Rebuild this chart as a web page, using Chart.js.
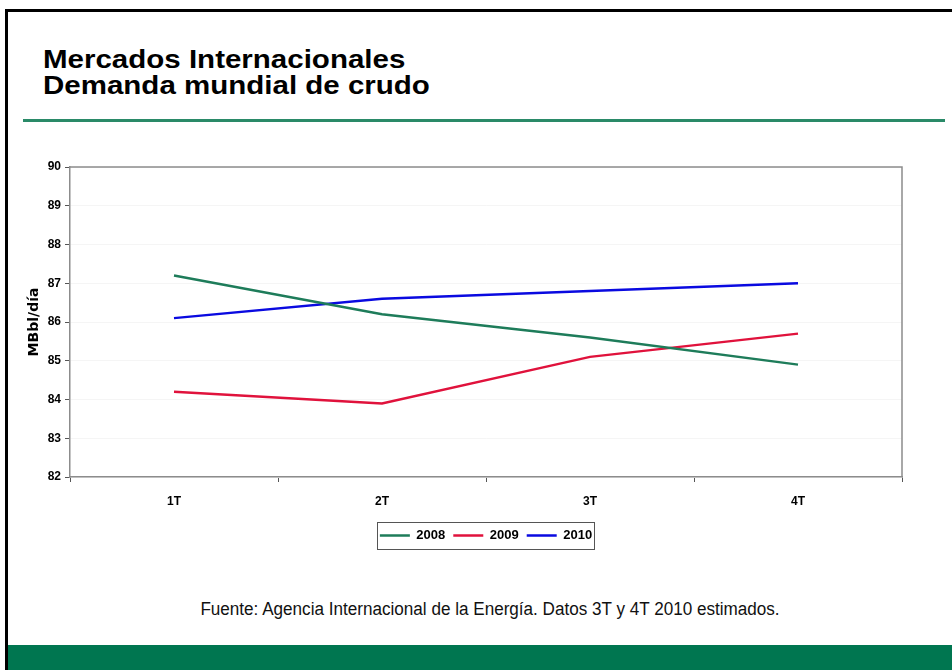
<!DOCTYPE html>
<html>
<head>
<meta charset="utf-8">
<script src="https://cdn.jsdelivr.net/npm/chart.js@4"></script>
<style>
  body { margin: 0; width: 952px; height: 670px; background: #fff; position: relative; overflow: hidden; font-family: "Liberation Sans", Arial, sans-serif; }
  .frame { position: absolute; left: 5px; top: 9px; width: 960px; height: 700px; border-left: 3px solid #000; border-top: 3px solid #000; }
  .title { position: absolute; left: 43px; top: 46px; font-size: 25px; font-weight: bold; line-height: 26px; color: #000; transform: scaleX(1.18); transform-origin: left top; white-space: nowrap; }
  .rule { position: absolute; left: 23px; top: 119px; width: 922px; height: 3px; background: #2a8a68; }
  .src { position: absolute; left: 490px; top: 599px; font-size: 18px; color: #111; white-space: nowrap; transform: translateX(-50%) scaleX(0.95); }
  .foot { position: absolute; left: 8px; top: 645px; width: 944px; height: 25px; background: #007650; }
  #wrap { position: absolute; left: 10px; top: 155px; width: 920px; height: 401px; }
</style>
</head>
<body>
<div class="frame"></div>
<div class="title">Mercados Internacionales<br>Demanda mundial de crudo</div>
<div class="rule"></div>
<div id="wrap"><canvas id="chart"></canvas></div>
<div class="src">Fuente: Agencia Internacional de la Energía. Datos 3T y 4T 2010 estimados.</div>
<div class="foot"></div>
<script>
// --- datos ---
const quarters = ['1T', '2T', '3T', '4T'];
const y2008 = [87.2, 86.2, 85.6, 84.9];
const y2009 = [84.2, 83.9, 85.1, 85.7];
const y2010 = [86.1, 86.6, 86.8, 87.0];

const ctx = document.getElementById('chart').getContext('2d');

// marco gris alrededor del área de trazado y caja de leyenda
const framePlugin = {
  id: 'framePlugin',
  afterDraw(chart) {
    const { ctx, chartArea, legend } = chart;
    ctx.save();
    ctx.strokeStyle = '#8c8c8c';
    ctx.lineWidth = 1.5;
    ctx.beginPath();
    ctx.moveTo(chartArea.left, chartArea.top);
    ctx.lineTo(chartArea.right, chartArea.top);
    ctx.lineTo(chartArea.right, chartArea.bottom);
    ctx.stroke();
    if (legend && legend.legendHitBoxes.length) {
      const boxes = legend.legendHitBoxes;
      const l = boxes[0].left - 3;
      const last = boxes[boxes.length - 1];
      const r = last.left + last.width + 2;
      const mid = boxes[0].top + boxes[0].height / 2;
      ctx.strokeStyle = '#555';
      ctx.lineWidth = 1;
      ctx.strokeRect(Math.round(l) + 0.5, Math.round(mid - 13.5) + 0.5, Math.round(r - l), 27);
    }
    ctx.restore();
  }
};

new Chart(ctx, {
  type: 'line',
  data: {
    labels: quarters,
    datasets: [
      { label: '2008', data: y2008, borderColor: '#1e7c5a', backgroundColor: '#1e7c5a', borderWidth: 2.5, pointRadius: 0, tension: 0 },
      { label: '2009', data: y2009, borderColor: '#e0123c', backgroundColor: '#e0123c', borderWidth: 2.5, pointRadius: 0, tension: 0 },
      { label: '2010', data: y2010, borderColor: '#0a0ae0', backgroundColor: '#0a0ae0', borderWidth: 2.5, pointRadius: 0, tension: 0 }
    ]
  },
  options: {
    responsive: true,
    maintainAspectRatio: false,
    animation: false,
    layout: { padding: { left: 8, right: 28, top: 12, bottom: 4 } },
    plugins: {
      tooltip: { enabled: false },
      legend: {
        position: 'bottom',
        fullSize: false,
        labels: {
          usePointStyle: true,
          pointStyle: 'line',
          pointStyleWidth: 30,
          boxHeight: 13,
          padding: 8,
          color: '#000',
          font: { family: 'Liberation Sans', size: 13, weight: 'bold' }
        }
      }
    },
    scales: {
      x: {
        offset: true,
        grid: { drawOnChartArea: false, offset: true, tickLength: 5, color: '#555' },
        border: { color: '#8c8c8c', width: 1.5 },
        ticks: { color: '#000', padding: 12, font: { family: 'Liberation Sans', size: 12, weight: 'bold' } },
        afterFit(scale) { scale.height = 44; }
      },
      y: {
        min: 82,
        max: 90,
        ticks: { stepSize: 1, color: '#000', padding: 4, font: { family: 'Liberation Sans', size: 12, weight: 'bold' } },
        grid: { color: '#f5f5f5', tickLength: 5, tickColor: '#555' },
        border: { color: '#8c8c8c', width: 1.5 },
        title: { display: true, text: 'MBbl/día', color: '#000', padding: { top: 8, bottom: 4 }, font: { family: 'DejaVu Sans', size: 14, weight: 'bold' } },
        afterFit(scale) { scale.width = 52; }
      }
    }
  },
  plugins: [framePlugin]
});
</script>
</body>
</html>
